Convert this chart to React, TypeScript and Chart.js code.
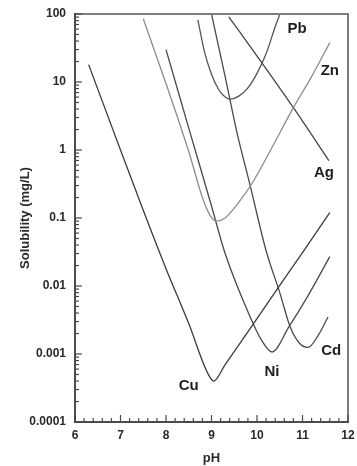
import React, { useEffect, useRef } from 'react';
import { Chart, registerables } from 'chart.js';

Chart.register(...registerables);

// ---- Data ----
const xTickValues = [6, 7, 8, 9, 10, 11, 12];
const yTickValues = [0.0001, 0.001, 0.01, 0.1, 1, 10, 100];
const yTickLabels = ['0.0001', '0.001', '0.01', '0.1', '1', '10', '100'];

const cuPH = [6.3, 7.0, 7.5, 8.0, 8.5, 8.9, 9.05, 9.3, 10.0, 10.5, 11.0, 11.6];
const cuSol = [18, 1.0, 0.13, 0.018, 0.0028, 0.00055, 0.0004, 0.0007, 0.0033, 0.0102, 0.031, 0.12];

const znPH = [7.5, 8.0, 8.5, 8.8, 8.95, 9.1, 9.3, 9.5, 9.7, 9.9, 10.3, 10.8, 11.2, 11.6];
const znSol = [85, 9.5, 0.95, 0.2, 0.115, 0.09, 0.1, 0.14, 0.21, 0.33, 1.0, 4.2, 12, 38];

const niPH = [8.0, 8.5, 9.0, 9.3, 9.85, 10.1, 10.33, 10.7, 11.1, 11.6];
const niSol = [30, 2.1, 0.15, 0.03, 0.0035, 0.0016, 0.00107, 0.0025, 0.0068, 0.027];

const cdPH = [9.0, 9.3, 9.56, 9.85, 10.2, 10.5, 10.73, 10.95, 11.12, 11.35, 11.56];
const cdSol = [100, 12, 1.8, 0.3, 0.033, 0.008, 0.0025, 0.0014, 0.00125, 0.0019, 0.0035];

const pbPH = [8.7, 8.85, 9.0, 9.15, 9.3, 9.41, 9.6, 9.8, 10.0, 10.2, 10.4, 10.5];
const pbSol = [82, 27, 13, 7.9, 6.0, 5.6, 6.2, 8.2, 13.4, 26, 65, 98];

const agPH = [9.38, 10.1, 10.8, 11.58];
const agSol = [91, 19.5, 4.2, 0.7];

const labelNames = ['Pb', 'Zn', 'Ag', 'Cd', 'Ni', 'Cu'];
const labelPH = [10.88, 11.6, 11.47, 11.63, 10.33, 8.5];
const labelSol = [60, 14.5, 0.46, 0.0011, 0.00055, 0.00034];

const FONT = '"Liberation Sans", Arial, Helvetica, sans-serif';

const toPoints = (xs: number[], ys: number[]) => xs.map((x, i) => ({ x, y: ys[i] }));

const series = [
  { name: 'Cu', xs: cuPH, ys: cuSol, color: '#3c3c3c' },
  { name: 'Zn', xs: znPH, ys: znSol, color: '#8c8c8c' },
  { name: 'Ni', xs: niPH, ys: niSol, color: '#4a4a4a' },
  { name: 'Cd', xs: cdPH, ys: cdSol, color: '#4a4a4a' },
  { name: 'Pb', xs: pbPH, ys: pbSol, color: '#555555' },
  { name: 'Ag', xs: agPH, ys: agSol, color: '#444444' },
];

const framePlugin = {
  id: 'frameTicks',
  afterDraw(chart: any) {
    const ctx: CanvasRenderingContext2D = chart.ctx;
    const xs = chart.scales.x;
    const ys = chart.scales.y;
    const L = xs.left;
    const R = xs.right;
    const T = ys.top;
    const B = ys.bottom;
    ctx.save();
    // top & right frame (grey)
    ctx.fillStyle = 'rgb(125,125,125)';
    ctx.fillRect(L, T - 1, R - L + 1, 2);
    ctx.fillRect(R - 1, T - 1, 2, B - T + 1);
    // left & bottom axes (dark grey)
    ctx.fillStyle = 'rgb(75,75,75)';
    ctx.fillRect(L - 1, T - 1, 2, B - T + 2);
    ctx.fillRect(L - 1, B - 1, R - L + 2, 2);
    // inward ticks
    for (let d = -4; d <= 2; d++) {
      for (let m = 1; m <= 9; m++) {
        const v = m * Math.pow(10, d);
        if (v > 100.0001) break;
        const y = ys.getPixelForValue(v);
        const len = m === 1 ? 7 : 4;
        ctx.fillRect(L, y - 0.6, len, 1.2);
      }
    }
    for (let i = 0; i <= 30; i++) {
      const v = 6 + i * 0.2;
      const x = xs.getPixelForValue(v);
      const len = i % 5 === 0 ? 7 : 4;
      ctx.fillRect(x - 0.6, B - len, 1.2, len);
    }
    // curve labels
    ctx.fillStyle = '#1e1e1e';
    ctx.font = `bold 15px ${FONT}`;
    ctx.textAlign = 'center';
    ctx.textBaseline = 'middle';
    labelNames.forEach((t, i) => {
      ctx.fillText(t, xs.getPixelForValue(labelPH[i]), ys.getPixelForValue(labelSol[i]));
    });
    ctx.restore();
  },
};

export default function App() {
  const ref = useRef<HTMLCanvasElement | null>(null);

  useEffect(() => {
    if (!ref.current) return;
    const chart = new Chart(ref.current, {
      type: 'line',
      data: {
        datasets: series.map((s) => ({
          label: s.name,
          data: toPoints(s.xs, s.ys),
          borderColor: s.color,
          borderWidth: 1.3,
          pointRadius: 0,
          fill: false,
          cubicInterpolationMode: 'monotone' as const,
        })),
      },
      options: {
        responsive: false,
        animation: false,
        devicePixelRatio: 1,
        layout: { padding: { top: 14, right: 9, left: 0, bottom: 0 } },
        plugins: { legend: { display: false }, tooltip: { enabled: false } },
        scales: {
          x: {
            type: 'linear',
            min: 6,
            max: 12,
            grid: { display: false, drawTicks: false },
            border: { display: false },
            afterBuildTicks: (scale: any) => {
              scale.ticks = xTickValues.map((v) => ({ value: v }));
            },
            afterFit: (scale: any) => {
              scale.height = 44;
              scale.paddingLeft = 0;
              scale.paddingRight = 0;
            },
            ticks: {
              padding: 6,
              color: '#2a2a2a',
              font: { family: FONT, size: 12, weight: 'bold' },
              callback: (v: any) => String(v),
              maxRotation: 0,
            },
            title: {
              display: true,
              text: 'pH',
              color: '#2a2a2a',
              font: { family: FONT, size: 13, weight: 'bold' },
              padding: { top: 0, bottom: 0 },
            },
          },
          y: {
            type: 'logarithmic',
            min: 0.0001,
            max: 100,
            grid: { display: false, drawTicks: false },
            border: { display: false },
            afterBuildTicks: (scale: any) => {
              scale.ticks = yTickValues.map((v) => ({ value: v }));
            },
            afterFit: (scale: any) => {
              scale.width = 75;
              scale.paddingTop = 0;
              scale.paddingBottom = 0;
            },
            ticks: {
              padding: 9,
              color: '#2a2a2a',
              font: { family: FONT, size: 12, weight: 'bold' },
              callback: (v: any) => {
                const i = yTickValues.findIndex((t) => Math.abs(t - v) / t < 1e-6);
                return i >= 0 ? yTickLabels[i] : '';
              },
              autoSkip: false,
            },
            title: {
              display: true,
              text: 'Solubility (mg/L)',
              color: '#2a2a2a',
              font: { family: FONT, size: 13, weight: 'bold' },
              padding: { top: 18, bottom: 0 },
            },
          },
        },
      },
      plugins: [framePlugin],
    } as any);
    return () => chart.destroy();
  }, []);

  return (
    <div style={{ position: 'fixed', left: 0, top: 0, width: 357, height: 466, background: '#fff' }}>
      <canvas ref={ref} width={357} height={466} style={{ display: 'block', width: 357, height: 466 }} />
    </div>
  );
}
